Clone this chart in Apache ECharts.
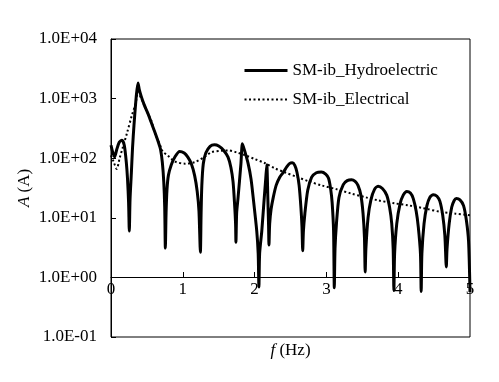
<!DOCTYPE html>
<html>
<head>
<meta charset="utf-8">
<script src="https://cdn.jsdelivr.net/npm/echarts@6/dist/echarts.min.js"></script>
<style>
html,body{margin:0;padding:0;background:#fff;}
#c{width:499px;height:382px;}
</style>
</head>
<body>
<div id="c"></div>
<script>
// Hydroelectric (solid) spectrum: frequency (Hz) and amplitude (A)
var hydroF = [0, 0.025, 0.05, 0.08, 0.115, 0.153, 0.185, 0.213, 0.23, 0.245, 0.255,
  0.265, 0.283, 0.30, 0.32, 0.353, 0.376, 0.395, 0.42, 0.46, 0.515, 0.56, 0.61, 0.66, 0.69, 0.715, 0.735, 0.748, 0.757,
  0.767, 0.78, 0.80, 0.84, 0.89, 0.956, 1.02, 1.07, 1.12, 1.165, 1.20, 1.225, 1.245,
  1.255, 1.265, 1.285, 1.32, 1.38, 1.44, 1.50, 1.57, 1.63, 1.67, 1.70, 1.72, 1.735, 1.74,
  1.75, 1.77, 1.81, 1.83, 1.86, 1.91, 1.95, 1.98, 2.03, 2.05, 2.06,
  2.07, 2.10, 2.135, 2.155, 2.17, 2.185, 2.195, 2.20,
  2.21, 2.23, 2.26, 2.30, 2.35, 2.40, 2.45, 2.49, 2.525, 2.56, 2.59, 2.62, 2.645, 2.66, 2.67,
  2.68, 2.70, 2.74, 2.795, 2.86, 2.93, 2.99, 3.03, 3.06, 3.08, 3.10, 3.11,
  3.12, 3.14, 3.175, 3.235, 3.29, 3.35, 3.40, 3.44, 3.48, 3.51, 3.53, 3.54,
  3.55, 3.58, 3.62, 3.67, 3.72, 3.78, 3.84, 3.88, 3.91, 3.93, 3.94,
  3.95, 3.98, 4.025, 4.07, 4.12, 4.17, 4.21, 4.25, 4.28, 4.31, 4.32,
  4.33, 4.36, 4.40, 4.44, 4.49, 4.54, 4.58, 4.62, 4.65, 4.67,
  4.68, 4.71, 4.745, 4.78, 4.81, 4.86, 4.91, 4.95, 4.98, 5.0];
var hydroA = [165, 125, 105, 140, 185, 200, 165, 86, 45, 18, 6,
  20, 55, 150, 355, 1130, 1820, 1400, 1100, 800, 560, 400, 275, 185, 140, 85, 40, 15, 3.1,
  12, 30, 52, 78, 105, 130, 122, 104, 80, 51, 28, 13, 2.65,
  12, 35, 80, 122, 158, 168, 160, 135, 104, 70, 40, 18, 8, 3.9,
  12, 22, 82, 175, 135, 81, 45, 22, 6, 2.5, 0.69,
  2.5, 6, 22, 45, 78, 20, 7, 3.5,
  8, 14, 22, 35, 48, 58, 72, 82, 84, 76, 58, 35, 15, 7, 2.8,
  6, 11.7, 29, 48, 57, 58.5, 54, 46, 30, 18, 6, 0.67,
  3, 8, 22, 36, 42, 43.6, 41, 35, 24, 12, 4.7, 1.23,
  3, 10, 20, 30, 33.7, 31, 24, 15, 8, 3, 0.6,
  2.5, 8, 17, 24, 27.7, 26, 21, 13, 7, 2.5, 0.58,
  2.5, 8, 16, 22, 24.4, 23, 19, 11, 5, 1.5,
  3, 8, 15, 19.5, 21, 20, 16, 9, 4, 0.57];

// Electrical (dotted) spectrum
var elecF = [0, 0.04, 0.079, 0.12, 0.163, 0.22, 0.29, 0.34, 0.38, 0.42, 0.47, 0.52, 0.56, 0.61, 0.68, 0.72, 0.79, 0.89, 1.03, 1.17, 1.30, 1.40, 1.52, 1.63, 1.75, 1.87, 2.0, 2.14, 2.28, 2.42, 2.6, 2.75, 2.93, 3.15, 3.35, 3.55, 3.72, 3.95, 4.14, 4.35, 4.6, 4.8, 5.0];
var elecA = [112, 85, 66, 100, 150, 257, 520, 800, 1300, 1000, 750, 540, 430, 270, 170, 130, 111, 88, 81, 86, 105, 126, 133, 135, 125, 112, 97, 83, 68, 58, 48, 41, 35, 30, 25.4, 22, 19.6, 17.5, 16.2, 14.5, 12.5, 11.7, 11];

var seriesNames = ['SM-ib_Hydroelectric', 'SM-ib_Electrical'];
var xTicks = [0, 1, 2, 3, 4, 5];
var yTickLabels = ['1.0E-01', '1.0E+00', '1.0E+01', '1.0E+02', '1.0E+03', '1.0E+04'];

function zip(a, b) { return a.map(function (v, i) { return [v, b[i]]; }); }

var FONT = 'Liberation Serif';
var chart = echarts.init(document.getElementById('c'), null, {renderer: 'canvas'});
chart.setOption({
  animation: false,
  backgroundColor: '#fff',
  color: ['#000', '#000'],
  textStyle: {fontFamily: FONT, color: '#000'},
  grid: {left: 111, right: 29, top: 39, bottom: 45, show: true, borderColor: '#000', borderWidth: 1, containLabel: false},
  legend: {
    orient: 'vertical', left: 243, top: 62, padding: 0, itemWidth: 43, itemHeight: 12, itemGap: 12,
    itemStyle: {opacity: 0},
    textStyle: {fontFamily: FONT, fontSize: 17, color: '#000'},
    data: [
      {name: seriesNames[0], lineStyle: {width: 3, color: '#000'}},
      {name: seriesNames[1], lineStyle: {width: 2, color: '#000', type: [2, 2.5]}}
    ]
  },
  xAxis: [{
    type: 'value', min: xTicks[0], max: xTicks[xTicks.length - 1], interval: 1,
    position: 'bottom', offset: -60,
    axisLine: {show: true, onZero: false, lineStyle: {color: '#000', width: 1}},
    axisTick: {show: true, inside: true, length: 5, lineStyle: {color: '#000'}},
    axisLabel: {fontFamily: FONT, fontSize: 17, color: '#000', margin: 4},
    splitLine: {show: false}
  }, {
    type: 'value', min: 0, max: 5, position: 'bottom',
    axisLine: {show: false}, axisTick: {show: false}, axisLabel: {show: false}, splitLine: {show: false},
    name: '{i|f} (Hz)', nameLocation: 'middle', nameGap: 5, nameMoveOverlap: false,
    nameTextStyle: {fontFamily: FONT, fontSize: 17, color: '#000', rich: {i: {fontFamily: FONT, fontSize: 17, fontStyle: 'italic', color: '#000'}}}
  }],
  yAxis: {
    type: 'log', logBase: 10, min: 0.1, max: 10000,
    axisLine: {show: true, lineStyle: {color: '#000', width: 1}},
    axisTick: {show: true, inside: true, length: 5, lineStyle: {color: '#000'}},
    axisLabel: {fontFamily: FONT, fontSize: 17, color: '#000', margin: 14,
      formatter: function (v) { return yTickLabels[Math.round(Math.log10(v)) + 1]; }},
    splitLine: {show: false}, minorTick: {show: false},
    name: '{i|A} (A)', nameLocation: 'middle', nameGap: 78, nameMoveOverlap: false,
    nameTextStyle: {fontFamily: FONT, fontSize: 17, color: '#000', rich: {i: {fontFamily: FONT, fontSize: 17, fontStyle: 'italic', color: '#000'}}}
  },
  series: [{
    name: seriesNames[0], type: 'line', xAxisIndex: 0, data: zip(hydroF, hydroA), showSymbol: false, symbol: 'none',
    smooth: 0.25, itemStyle: {color: '#000'}, lineStyle: {color: '#000', width: 3, join: 'round'}, z: 3
  }, {
    name: seriesNames[1], type: 'line', xAxisIndex: 0, data: zip(elecF, elecA), showSymbol: false, symbol: 'none',
    smooth: 0.3, itemStyle: {color: '#000'}, lineStyle: {color: '#000', width: 2, type: [2, 2.5]}, z: 2
  }]
});
</script>
</body>
</html>
